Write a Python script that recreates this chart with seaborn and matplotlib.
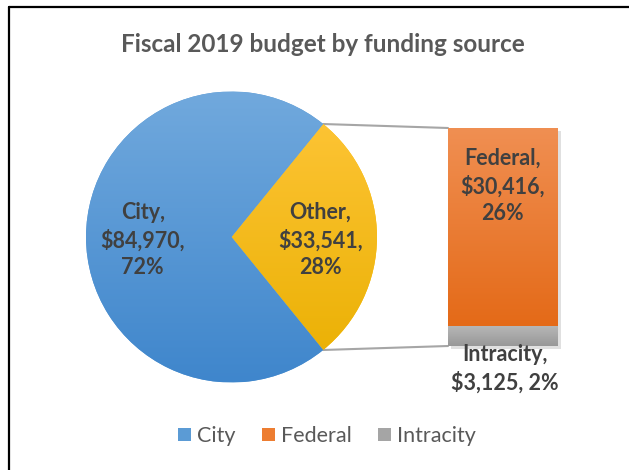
import numpy as np
import matplotlib
matplotlib.use("Agg")
import matplotlib.pyplot as plt
import seaborn as sns
from matplotlib.patches import ConnectionPatch, Patch, Rectangle
from matplotlib.colors import LinearSegmentedColormap
from matplotlib.lines import Line2D

# ---- data ----
title = "Fiscal 2019 budget by funding source"
pie_labels = ["Other", "City"]
pie_values = [33541, 84970]
pie_pcts = [28, 72]
bar_labels = ["Federal", "Intracity"]
bar_values = [30416, 3125]
bar_pcts = [26, 2]
legend_labels = ["City", "Federal", "Intracity"]

# ---- style ----
sns.set_theme(style="white")
plt.rcParams['font.family'] = ['Lato', 'DejaVu Sans']

grad = {
    "City": ("#71A9DD", "#3F86CC"),
    "Other": ("#FFC63A", "#E9AF00"),
    "Federal": ("#F08F52", "#E46A18"),
    "Intracity": ("#B8B8B8", "#989898"),
}
solid = {"City": "#5B9BD5", "Other": "#FFC000", "Federal": "#ED7D31", "Intracity": "#A5A5A5"}
label_color = "#404040"
LFS = 15.5

W, H = 629, 470
fig = plt.figure(figsize=(W / 100, H / 100), dpi=100)
fig.patch.set_facecolor("white")

def fx(px):
    return px / W

def fy(py):
    return 1 - py / H

def cmap_for(name):
    top, bot = grad[name]
    return LinearSegmentedColormap.from_list(name, [bot, top])

# ---- pie ----
cx, cy, r = 231.5, 237.0, 145.5
ax_pie = fig.add_axes([fx(cx - r), fy(cy + r), 2 * r / W, 2 * r / H])
total = sum(pie_values)
other_angle = 360.0 * pie_values[0] / total
wedges, _ = ax_pie.pie(pie_values, startangle=-other_angle / 2, counterclock=True,
                       colors=[solid[n] for n in pie_labels], radius=1,
                       wedgeprops=dict(linewidth=0))
gy = np.linspace(0, 1, 256).reshape(-1, 1)
for w, name in zip(wedges, pie_labels):
    im = ax_pie.imshow(gy, extent=(-1, 1, -1, 1), origin="lower", cmap=cmap_for(name),
                       aspect="auto", zorder=w.get_zorder() + 0.1)
    im.set_clip_path(w)
for w, name, val, pct in zip(wedges, pie_labels, pie_values, pie_pcts):
    mid = np.deg2rad((w.theta1 + w.theta2) / 2)
    ax_pie.text(0.61 * np.cos(mid), 0.61 * np.sin(mid) - 0.02,
                f"{name},\n${val:,},\n{pct}%", ha="center", va="center",
                fontsize=LFS, fontweight="bold", color=label_color,
                linespacing=1.35, zorder=10)
ax_pie.set_xlim(-1, 1)
ax_pie.set_ylim(-1, 1)
ax_pie.axis("off")

# ---- bar of pie ----
bl, br, bt, bb = 448, 557.5, 128, 346
ax_bar = fig.add_axes([fx(bl), fy(bb), (br - bl) / W, (bb - bt) / H])
btotal = sum(bar_values)
# shadow
ax_bar.add_patch(Rectangle((0.03, -btotal * 0.012), 1.0, btotal, facecolor="#000000",
                           alpha=0.12, linewidth=0, zorder=0, clip_on=False))
order = list(zip(bar_labels, bar_values))[::-1]  # Intracity at bottom
bottom = 0
for name, val in order:
    bars = ax_bar.bar(0.5, val, width=1.0, bottom=bottom, color=solid[name], linewidth=0, zorder=1)
    rect = bars.patches[0]
    im = ax_bar.imshow(gy, extent=(0, 1, bottom, bottom + val), origin="lower",
                       cmap=cmap_for(name), aspect="auto", zorder=2)
    im.set_clip_path(rect)
    bottom += val
ax_bar.set_xlim(0, 1)
ax_bar.set_ylim(0, btotal)
ax_bar.axis("off")

ax_bar.text(0.5, 1 - 58 / (bb - bt), f"{bar_labels[0]},\n${bar_values[0]:,},\n{bar_pcts[0]}%",
            transform=ax_bar.transAxes, ha="center", va="center", fontsize=LFS,
            fontweight="bold", color=label_color, linespacing=1.35, zorder=10)
ax_bar.text(0.52, -23 / (bb - bt), f"{bar_labels[1]},\n${bar_values[1]:,}, {bar_pcts[1]}%",
            transform=ax_bar.transAxes, ha="center", va="center", fontsize=LFS,
            fontweight="bold", color=label_color, linespacing=1.35, zorder=10,
            clip_on=False)

# ---- connector lines ----
a1 = np.deg2rad(wedges[0].theta2)
a2 = np.deg2rad(wedges[0].theta1)
for (px, py), (qx, qy) in [((np.cos(a1), np.sin(a1)), (0, btotal)),
                           ((np.cos(a2), np.sin(a2)), (0, 0))]:
    con = ConnectionPatch(xyA=(px, py), coordsA=ax_pie.transData,
                          xyB=(qx, qy), coordsB=ax_bar.transData,
                          color="#A6A6A6", lw=1.5, zorder=0)
    fig.add_artist(con)

# ---- title ----
fig.text(fx(323), fy(45), title, ha="center", va="center", fontsize=17.5,
         fontweight="bold", color="#595959")

# ---- legend ----
handles = [Patch(facecolor=solid[n], edgecolor="none") for n in legend_labels]
fig.legend(handles, legend_labels, loc="center", bbox_to_anchor=(fx(327), fy(436)),
           ncol=3, frameon=False, fontsize=15.5, handlelength=0.6, handleheight=0.6,
           handletextpad=0.3, columnspacing=1.2, labelcolor="#595959")

# ---- outer frame ----
fig.add_artist(Line2D([fx(9), fx(9)], [fy(7), 0], color="black", lw=1.6,
                      transform=fig.transFigure))
fig.add_artist(Line2D([fx(9), 1], [fy(7), fy(7)], color="black", lw=1.6,
                      transform=fig.transFigure))

fig.savefig("out.png", dpi=100, facecolor="white")
